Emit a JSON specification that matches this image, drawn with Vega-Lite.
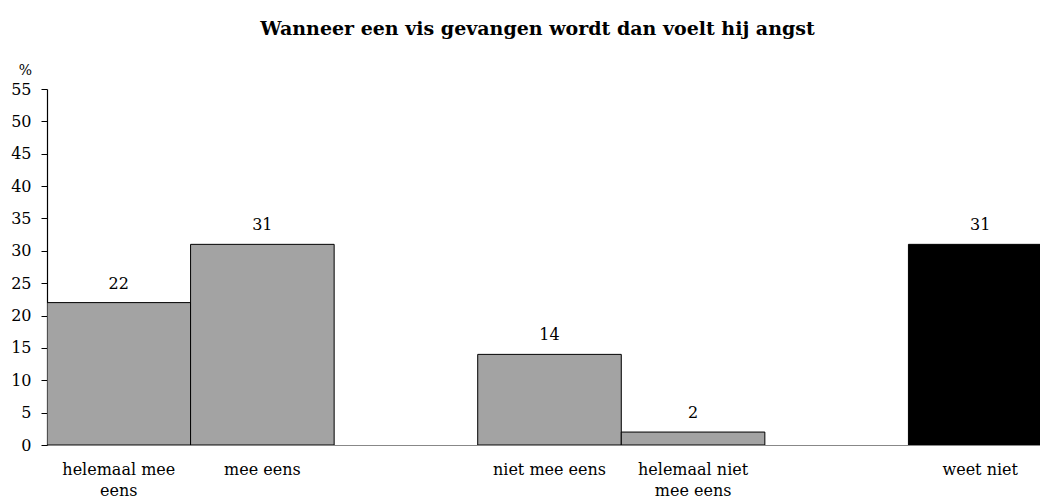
{
  "$schema": "https://vega.github.io/schema/vega-lite/v6.json",
  "width": 993,
  "height": 356,
  "autosize": {"type": "none"},
  "padding": {"left": 47, "top": 89, "right": 0, "bottom": 58},
  "background": "white",
  "config": {"view": {"stroke": null}, "font": "DejaVu Serif"},
  "title": {
    "text": "Wanneer een vis gevangen wordt dan voelt hij angst",
    "font": "DejaVu Serif",
    "fontSize": 19,
    "fontWeight": "bold",
    "color": "black",
    "anchor": "middle",
    "dx": -6,
    "offset": 24
  },
  "data": {
    "values": [
      {"cat": "helemaal mee eens", "value": 22, "type": "hatch"},
      {"cat": "mee eens", "value": 31, "type": "hatch"},
      {"cat": "niet mee eens", "value": 14, "type": "hatch"},
      {"cat": "helemaal niet mee eens", "value": 2, "type": "hatch"},
      {"cat": "weet niet", "value": 31, "type": "solid"}
    ]
  },
  "encoding": {
    "x": {
      "field": "cat",
      "type": "nominal",
      "sort": null,
      "scale": {
        "domain": ["helemaal mee eens", "mee eens", "gap1", "niet mee eens", "helemaal niet mee eens", "gap2", "weet niet"],
        "range": [0, 1005],
        "paddingInner": 0,
        "paddingOuter": 0
      },
      "axis": {
        "title": null,
        "labelAngle": 0,
        "labelFont": "DejaVu Serif",
        "labelFontSize": 16,
        "labelColor": "black",
        "labelPadding": 16,
        "labelLineHeight": 21,
        "labelBaseline": "top",
        "ticks": false,
        "domain": true,
        "domainColor": "#888888",
        "domainWidth": 1,
        "labelExpr": "datum.value == 'helemaal mee eens' ? ['helemaal mee', 'eens'] : datum.value == 'helemaal niet mee eens' ? ['helemaal niet', 'mee eens'] : indexof(datum.value, 'gap') == 0 ? '' : datum.value"
      }
    },
    "y": {
      "field": "value",
      "type": "quantitative",
      "scale": {"domain": [0, 55], "nice": false},
      "axis": {
        "title": "%",
        "titleAngle": 0,
        "titleFont": "DejaVu Serif",
        "titleFontSize": 14,
        "titleFontWeight": "normal",
        "titleColor": "black",
        "titleAlign": "center",
        "titleBaseline": "middle",
        "titleX": -22,
        "titleY": -19,
        "values": [0, 5, 10, 15, 20, 25, 30, 35, 40, 45, 50, 55],
        "grid": false,
        "labelFont": "DejaVu Serif",
        "labelFontSize": 16,
        "labelColor": "black",
        "labelPadding": 10,
        "tickSize": 6,
        "tickColor": "black",
        "domainColor": "black",
        "domainWidth": 1.2
      }
    }
  },
  "layer": [
    {
      "mark": {"type": "bar", "stroke": "black", "strokeWidth": 1, "clip": true},
      "encoding": {
        "color": {
          "field": "type",
          "type": "nominal",
          "scale": {"domain": ["hatch", "solid"], "range": ["#a3a3a3", "#000000"]},
          "legend": null
        }
      }
    },
    {
      "mark": {"type": "text", "baseline": "bottom", "dy": -11, "fontSize": 16, "font": "DejaVu Serif", "color": "black"},
      "encoding": {"text": {"field": "value", "type": "quantitative"}}
    }
  ]
}
